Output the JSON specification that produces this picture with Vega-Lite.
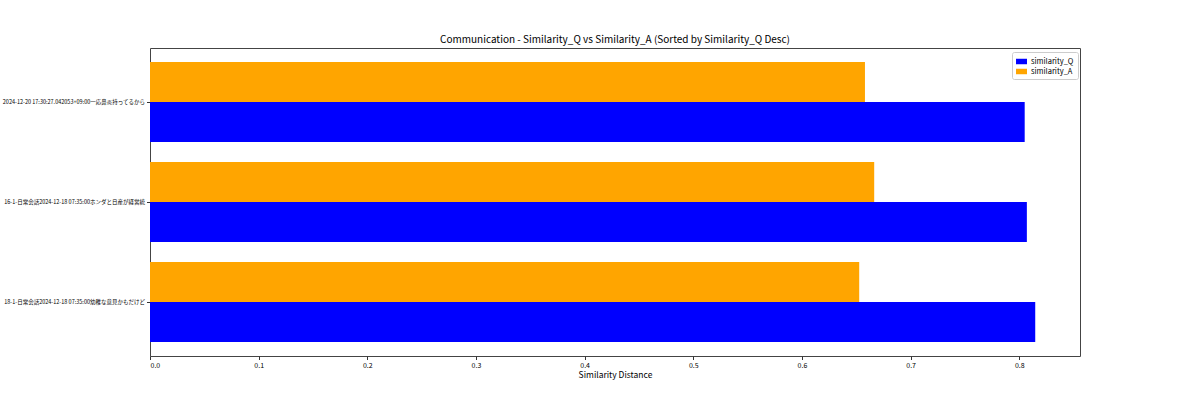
{
  "$schema": "https://vega.github.io/schema/vega-lite/v6.json",
  "width": 930,
  "height": 308,
  "autosize": {"type": "none"},
  "padding": {"left": 150, "top": 48, "right": 120, "bottom": 44},
  "background": "white",
  "title": {
    "text": "Communication - Similarity_Q vs Similarity_A (Sorted by Similarity_Q Desc)",
    "font": "Noto Sans CJK JP",
    "fontSize": 10,
    "fontWeight": "normal",
    "color": "black",
    "anchor": "middle",
    "frame": "group",
    "offset": 3
  },
  "config": {
    "view": {"stroke": "#444", "strokeWidth": 1},
    "axis": {
      "grid": false,
      "domain": false,
      "tickColor": "#333",
      "tickSize": 3.5,
      "labelColor": "black",
      "titleColor": "black",
      "labelFont": "Noto Sans CJK JP",
      "titleFont": "Noto Sans CJK JP",
      "titleFontWeight": "normal"
    }
  },
  "data": {
    "values": [
      {"label": "2024-12-20 17:30:27.042053+09:00一応鼻炎持ってるから", "metric": "similarity_Q", "value": 0.805},
      {"label": "2024-12-20 17:30:27.042053+09:00一応鼻炎持ってるから", "metric": "similarity_A", "value": 0.658},
      {"label": "16-1-日常会話2024-12-18 07:35:00ホンダと日産が経営統", "metric": "similarity_Q", "value": 0.807},
      {"label": "16-1-日常会話2024-12-18 07:35:00ホンダと日産が経営統", "metric": "similarity_A", "value": 0.6665},
      {"label": "18-1-日常会話2024-12-18 07:35:00幼稚な意見かもだけど", "metric": "similarity_Q", "value": 0.8147},
      {"label": "18-1-日常会話2024-12-18 07:35:00幼稚な意見かもだけど", "metric": "similarity_A", "value": 0.6527}
    ]
  },
  "mark": {"type": "bar"},
  "encoding": {
    "y": {
      "field": "label",
      "type": "nominal",
      "sort": null,
      "scale": {"paddingInner": 0.2, "paddingOuter": 0.14},
      "axis": {
        "title": null,
        "labelFontSize": 5.5,
        "labelLimit": 0,
        "labelPadding": 2
      }
    },
    "yOffset": {
      "field": "metric",
      "type": "nominal",
      "sort": ["similarity_A", "similarity_Q"],
      "scale": {"paddingInner": 0, "paddingOuter": 0}
    },
    "x": {
      "field": "value",
      "type": "quantitative",
      "scale": {"domain": [0, 0.8559], "nice": false},
      "axis": {
        "title": "Similarity Distance",
        "values": [0, 0.1, 0.2, 0.3, 0.4, 0.5, 0.6, 0.7, 0.8],
        "format": ".1f",
        "labelFontSize": 7,
        "titleFontSize": 8.5,
        "labelPadding": 2,
        "titlePadding": 2
      }
    },
    "color": {
      "field": "metric",
      "type": "nominal",
      "scale": {"domain": ["similarity_Q", "similarity_A"], "range": ["#0000ff", "#ffa500"]},
      "legend": {
        "title": null,
        "orient": "none",
        "legendX": 862,
        "legendY": 4,
        "symbolType": "M-1,-0.5H1V0.5H-1Z",
        "symbolSize": 120,
        "symbolStrokeWidth": 0,
        "labelFont": "Noto Sans CJK JP",
        "labelFontSize": 7.5,
        "labelColor": "black",
        "rowPadding": 1,
        "padding": 4,
        "strokeColor": "#ccc",
        "fillColor": "white",
        "cornerRadius": 2
      }
    }
  }
}
